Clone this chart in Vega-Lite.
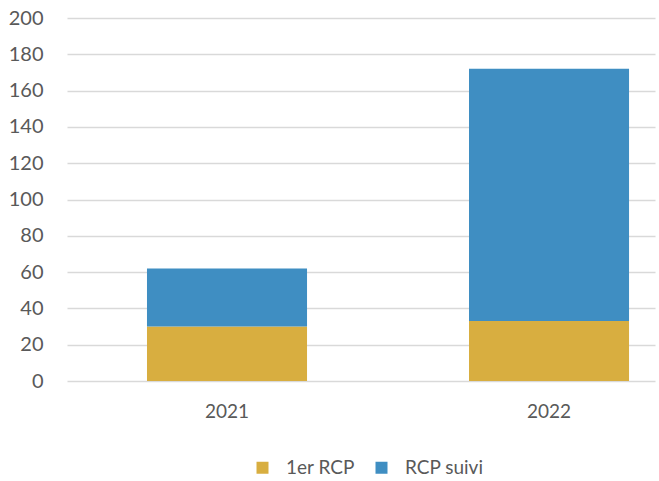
{
  "$schema": "https://vega.github.io/schema/vega-lite/v6.json",
  "autosize": "none",
  "width": 588,
  "height": 363,
  "padding": {"left": 67, "top": 18, "right": 4, "bottom": 100},
  "background": "white",
  "data": {
    "values": [
      {"annee": "2021", "type": "1er RCP", "ordre": 1, "valeur": 30},
      {"annee": "2021", "type": "RCP suivi", "ordre": 2, "valeur": 32},
      {"annee": "2022", "type": "1er RCP", "ordre": 1, "valeur": 33},
      {"annee": "2022", "type": "RCP suivi", "ordre": 2, "valeur": 139}
    ]
  },
  "mark": {"type": "bar"},
  "encoding": {
    "x": {
      "field": "annee", "type": "nominal",
      "scale": {"paddingInner": 0.503, "paddingOuter": 0.1645, "align": 0.755},
      "axis": {"title": null, "labelAngle": 0, "labelFontSize": 19, "labelFont": "Lato", "labelColor": "#595959", "ticks": false, "domain": false, "labelPadding": 21}
    },
    "y": {
      "field": "valeur", "type": "quantitative", "aggregate": "sum", "stack": "zero",
      "scale": {"domain": [0, 200], "nice": false},
      "axis": {"title": null, "values": [0,20,40,60,80,100,120,140,160,180,200], "labelFontSize": 20, "labelFont": "Lato", "labelColor": "#595959", "ticks": false, "domain": false, "labelPadding": 24, "gridColor": "#d9d9d9", "gridWidth": 1.5}
    },
    "color": {
      "field": "type", "type": "nominal",
      "scale": {"domain": ["1er RCP", "RCP suivi"], "range": ["#D8AE40", "#3F8EC2"]},
      "legend": {"title": null, "orient": "none", "legendX": 186, "legendY": 440, "direction": "horizontal", "symbolType": "square", "symbolSize": 144, "symbolStrokeWidth": 0, "labelFontSize": 19, "labelFont": "Lato", "labelColor": "#595959", "labelOffset": 14, "columnPadding": 17}
    },
    "order": {"field": "ordre", "type": "quantitative"}
  },
  "config": {"view": {"stroke": null}}
}
